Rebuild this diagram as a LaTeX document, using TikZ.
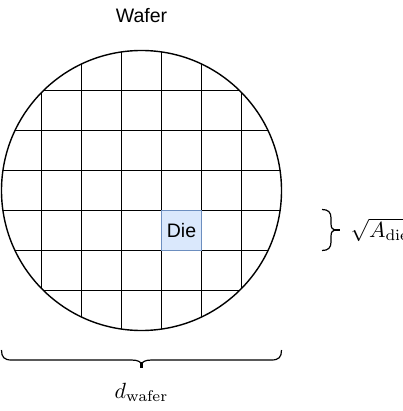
\documentclass[tikz,border=0pt]{standalone}
\usepackage[no-math]{fontspec}
\newfontfamily\helv{Liberation Sans}
\definecolor{dieblue}{HTML}{6C8EBF}
\definecolor{diefill}{HTML}{DAE8FC}
\newcommand{\bigmath}[1]{\scalebox{2.2}{$#1$}}
\begin{document}
\begin{tikzpicture}[x=1pt,y=-1pt,
  gridline/.style={line width=1pt,black},
  waferline/.style={line width=1.4pt,black},
  bracket/.style={line width=1.2pt,black},
  stem/.style={line width=2.6pt,black},
  sanslabel/.style={font=\helv\fontsize{19.5}{23}\selectfont, inner sep=0pt},
  mathlabel/.style={font=\fontsize{10}{12}\selectfont, inner sep=0pt}]
\useasboundingbox (0,0) rectangle (402,411);
\node[sanslabel] (title) at (141.5,15.5) {Wafer};
\begin{scope}
  \clip (141.5,190.5) circle[radius=140pt];
  \foreach \x in {41.5,81.5,...,241.5} \draw[gridline] (\x,40) -- (\x,340);
  \foreach \y in {90.5,130.5,...,290.5} \draw[gridline] (-10,\y) -- (300,\y);
\end{scope}
\node[draw, circle, waferline, minimum size=280pt, inner sep=0pt] (wafer) at (141.5,190.5) {};
\node[draw=dieblue, fill=diefill, line width=1.3pt, minimum size=40pt, sanslabel] (die) at (181.5,230.5) {Die};
% bottom brace
\coordinate (bl) at (1.5,350);
\coordinate (br) at (281.5,350);
\coordinate (btip) at (141.5,368);
\draw[bracket] (bl) .. controls (1.5,357) and (4,360) .. (11.5,360) -- (131.5,360)
  .. controls (138,360) and (141.5,362) .. (141.5,365)
  .. controls (141.5,362) and (145,360) .. (151.5,360) -- (271.5,360)
  .. controls (279,360) and (281.5,357) .. (br);
\draw[stem] (141.5,362) -- (btip);
\node[mathlabel] (dw) at (141.5,392.5) {\bigmath{d_\mathrm{wafer}}};
% right brace
\coordinate (rt) at (322,209.5);
\coordinate (rb) at (322,250.5);
\coordinate (rtip) at (340,230);
\draw[bracket] (rt) .. controls (328,209.5) and (331,212) .. (331,218) -- (331,224)
  .. controls (331,228) and (333,230) .. (335,230)
  .. controls (333,230) and (331,232) .. (331,236) -- (331,242)
  .. controls (331,248) and (328,250.5) .. (rb);
\draw[stem] (333,230) -- (rtip);
\node[mathlabel, anchor=west] (sq) at (350.5,230) {\bigmath{\sqrt{A_\mathrm{die}}}};
\end{tikzpicture}
\end{document}
